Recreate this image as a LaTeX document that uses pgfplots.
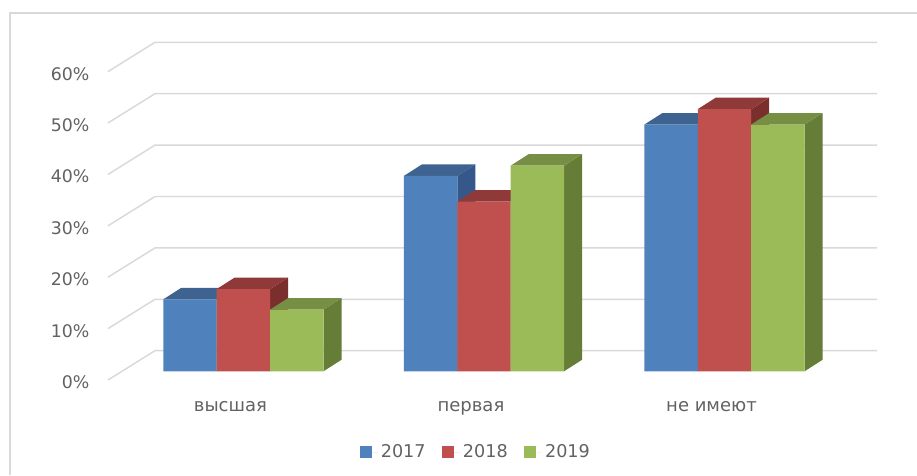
\documentclass[border=0pt]{standalone}
\usepackage{fontspec}
\setmainfont{DejaVu Sans}
\usepackage{pgfplots}
\pgfplotsset{compat=1.18}
\definecolor{gridc}{HTML}{D9D9D9}
\definecolor{txt}{HTML}{626262}
\definecolor{bF}{HTML}{4F81BD}\definecolor{bT}{HTML}{3E6390}\definecolor{bS}{HTML}{35578A}
\definecolor{rF}{HTML}{C0504D}\definecolor{rT}{HTML}{8F3A38}\definecolor{rS}{HTML}{7B2F2D}
\definecolor{gF}{HTML}{9BBB59}\definecolor{gT}{HTML}{778F45}\definecolor{gS}{HTML}{657D36}
% depth of a bar in data units: 18 px across and 11.5 px up
\newcommand{\BarDepth}[5]{% group centre, value, shift, top colour, side colour
  \pgfmathsetmacro{\xa}{#1+#3-0.111}
  \pgfmathsetmacro{\xb}{#1+#3+0.111}
  \pgfmathsetmacro{\xc}{\xa+0.0748}
  \pgfmathsetmacro{\xd}{\xb+0.0748}
  \pgfmathsetmacro{\yt}{#2+2.237}
  \edef\temp{\noexpand\addplot[fill=#5,draw=none,forget plot] coordinates {(\xb,0) (\xd,2.237) (\xd,\yt) (\xb,#2)} -- cycle;
    \noexpand\addplot[fill=#4,draw=none,forget plot] coordinates {(\xa,#2) (\xb,#2) (\xd,\yt) (\xc,\yt)} -- cycle;}
  \temp
}
\newcommand{\GridL}[1]{%
  \pgfmathsetmacro{\ya}{#1-1.7}
  \pgfmathsetmacro{\yb}{#1+4.0}
  \edef\temp{\noexpand\addplot[gridc,line width=1.1pt,forget plot] coordinates {(-0.563,\ya) (-0.3676,\yb) (2.634,\yb)};}
  \temp
}
\begin{document}
\begin{tikzpicture}
\path[use as bounding box] (0,0) rectangle (687.75pt,356.25pt);
\draw[gridc,line width=1.5pt] (687.75pt,346.5pt) -- (7.5pt,346.5pt) -- (7.5pt,0pt);
\begin{axis}[
  at={(81pt,71.25pt)}, anchor=south west,
  scale only axis, width=576.75pt, height=253.5pt,
  xmin=-0.563, xmax=2.634, ymin=-1.7, ymax=64.06,
  clip=false,
  axis line style={draw=none},
  tick style={draw=none},
  xtick={0,1,2},
  xticklabels={высшая,первая,не имеют},
  ytick={0,10,20,30,40,50,60},
  yticklabel={\pgfmathprintnumber[assume math mode=true]{\tick}\%},
  tick label style={font=\fontsize{13}{15}\selectfont, text=txt},
  xticklabel style={font=\fontsize{13.5}{15}\selectfont, xshift=-9.75pt, yshift=-12.5pt},
  yticklabel style={xshift=-10.5pt, yshift=-8.2pt},
  legend style={at={(0.479,-0.213)}, anchor=center, draw=none, fill=none,
    legend columns=3, font=\fontsize{13.2}{15}\selectfont, text=txt,
    /tikz/every even column/.append style={column sep=10.5pt}},
  legend image code/.code={\path (0pt,0pt) rectangle (13.5pt,0pt);\fill[#1] (0pt,-4.5pt) rectangle (9pt,4.5pt);},
]
\GridL{0}\GridL{10}\GridL{20}\GridL{30}\GridL{40}\GridL{50}\GridL{60}

% 2017
\BarDepth{0}{14}{-0.222}{bT}{bS}
\BarDepth{1}{38}{-0.222}{bT}{bS}
\BarDepth{2}{48}{-0.222}{bT}{bS}
\addplot[ybar, bar width=0.222, bar shift=-0.222, fill=bF, draw=none] coordinates {(0,14) (1,38) (2,48)};
\addlegendentry{2017}
% 2018
\BarDepth{0}{16}{0}{rT}{rS}
\BarDepth{1}{33}{0}{rT}{rS}
\BarDepth{2}{51}{0}{rT}{rS}
\addplot[ybar, bar width=0.222, bar shift=0, fill=rF, draw=none] coordinates {(0,16) (1,33) (2,51)};
\addlegendentry{2018}
% 2019
\BarDepth{0}{12}{0.222}{gT}{gS}
\BarDepth{1}{40}{0.222}{gT}{gS}
\BarDepth{2}{48}{0.222}{gT}{gS}
\addplot[ybar, bar width=0.222, bar shift=0.222, fill=gF, draw=none] coordinates {(0,12) (1,40) (2,48)};
\addlegendentry{2019}
\end{axis}
\end{tikzpicture}
\end{document}
